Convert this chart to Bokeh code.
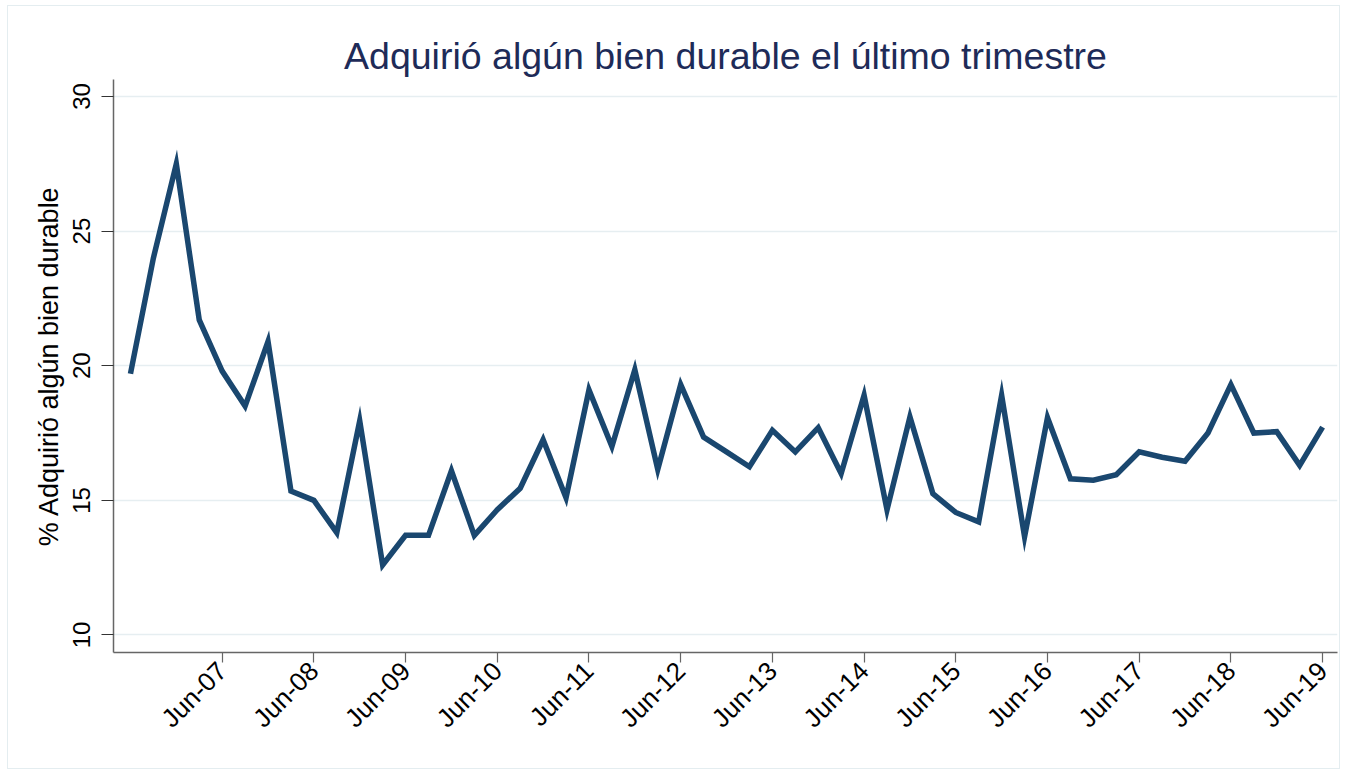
import math
from bokeh.plotting import figure
from bokeh.models import ColumnDataSource, FixedTicker, Range1d
from bokeh.embed import file_html
from bokeh.resources import INLINE

# ---- data (quarterly, Jun-06 .. Jun-19) ----
quarters = [
    "Jun-06", "Sep-06", "Dec-06", "Mar-07",
    "Jun-07", "Sep-07", "Dec-07", "Mar-08",
    "Jun-08", "Sep-08", "Dec-08", "Mar-09",
    "Jun-09", "Sep-09", "Dec-09", "Mar-10",
    "Jun-10", "Sep-10", "Dec-10", "Mar-11",
    "Jun-11", "Sep-11", "Dec-11", "Mar-12",
    "Jun-12", "Sep-12", "Dec-12", "Mar-13",
    "Jun-13", "Sep-13", "Dec-13", "Mar-14",
    "Jun-14", "Sep-14", "Dec-14", "Mar-15",
    "Jun-15", "Sep-15", "Dec-15", "Mar-16",
    "Jun-16", "Sep-16", "Dec-16", "Mar-17",
    "Jun-17", "Sep-17", "Dec-17", "Mar-18",
    "Jun-18", "Sep-18", "Dec-18", "Mar-19",
    "Jun-19",
]
pct_durable = [
    19.7, 24.0, 27.5, 21.7,
    19.8, 18.5, 20.9, 15.35,
    15.0, 13.8, 17.95, 12.6,
    13.7, 13.7, 16.1, 13.7,
    14.65, 15.45, 17.25, 15.1,
    19.1, 17.0, 19.85, 16.15,
    19.3, 17.35, 16.8, 16.25,
    17.6, 16.8, 17.7, 16.0,
    18.9, 14.65, 18.1, 15.25,
    14.55, 14.2, 18.9, 13.65,
    18.07, 15.8, 15.75, 15.95,
    16.8, 16.6, 16.45, 17.5,
    19.3, 17.5, 17.55, 16.3,
    17.72,
]
tick_labels = ["Jun-07", "Jun-08", "Jun-09", "Jun-10", "Jun-11", "Jun-12", "Jun-13",
               "Jun-14", "Jun-15", "Jun-16", "Jun-17", "Jun-18", "Jun-19"]
y_ticks = [10, 15, 20, 25, 30]

title_text = "Adquirió algún bien durable el último trimestre"
y_title = "% Adquirió algún bien durable"

# ---- build ----
x_idx = list(range(len(quarters)))
src = ColumnDataSource(dict(x=x_idx, y=pct_durable, q=quarters))

FONT = "Liberation Sans"
NAVY = "#1a476f"

p = figure(
    width=1333, height=764,
    output_backend="svg", toolbar_location=None,
    x_range=Range1d(-0.74, 52.65), y_range=Range1d(9.35, 30.63),
    min_border_left=105, min_border_right=4, min_border_top=73, min_border_bottom=118,
    title=title_text,
)
p.styles = {"border": "1px solid #e4edf0", "margin": "5px 0px 0px 7px"}

p.line("x", "y", source=src, line_color=NAVY, line_width=5.5, line_join="miter")

# title
p.title.align = "center"
p.title.text_font = FONT
p.title.text_font_size = "37.5px"
p.title.text_font_style = "normal"
p.title.text_color = "#1e2b58"
p.title.standoff = 6

# frame / grid
p.outline_line_color = None
p.background_fill_color = "white"
p.border_fill_color = "white"
p.xgrid.grid_line_color = None
p.ygrid.grid_line_color = "#e6eef1"
p.ygrid.grid_line_width = 1.5

# x axis
tick_pos = [quarters.index(t) for t in tick_labels]
p.xaxis.ticker = FixedTicker(ticks=tick_pos)
p.xaxis.major_label_overrides = {pos: lab for pos, lab in zip(tick_pos, tick_labels)}
p.xaxis.major_label_orientation = math.pi / 4
p.xaxis.major_label_text_font = FONT
p.xaxis.major_label_text_font_size = "26px"
p.xaxis.major_label_text_color = "black"
p.xaxis.axis_line_color = "#666666"
p.xaxis.axis_line_width = 1.5
p.xaxis.major_tick_line_color = "#666666"
p.xaxis.major_tick_line_width = 1.2
p.xaxis.major_tick_out = 10
p.xaxis.major_tick_in = 0
p.xaxis.minor_tick_line_color = None
p.xaxis.major_label_standoff = 4

# y axis
p.yaxis.ticker = FixedTicker(ticks=y_ticks)
p.yaxis.major_label_orientation = "vertical"
p.yaxis.major_label_text_font = FONT
p.yaxis.major_label_text_font_size = "24px"
p.yaxis.major_label_text_color = "black"
p.yaxis.axis_line_color = "#666666"
p.yaxis.axis_line_width = 1.5
p.yaxis.major_tick_line_color = "#333333"
p.yaxis.major_tick_line_width = 1.2
p.yaxis.major_tick_out = 12
p.yaxis.major_tick_in = 0
p.yaxis.minor_tick_line_color = None
p.yaxis.major_label_standoff = 11
p.yaxis.axis_label = y_title
p.yaxis.axis_label_text_font = FONT
p.yaxis.axis_label_text_font_size = "27px"
p.yaxis.axis_label_text_font_style = "normal"
p.yaxis.axis_label_text_color = "black"
p.yaxis.axis_label_standoff = 7

open("out.html", "w").write(file_html(p, INLINE))
